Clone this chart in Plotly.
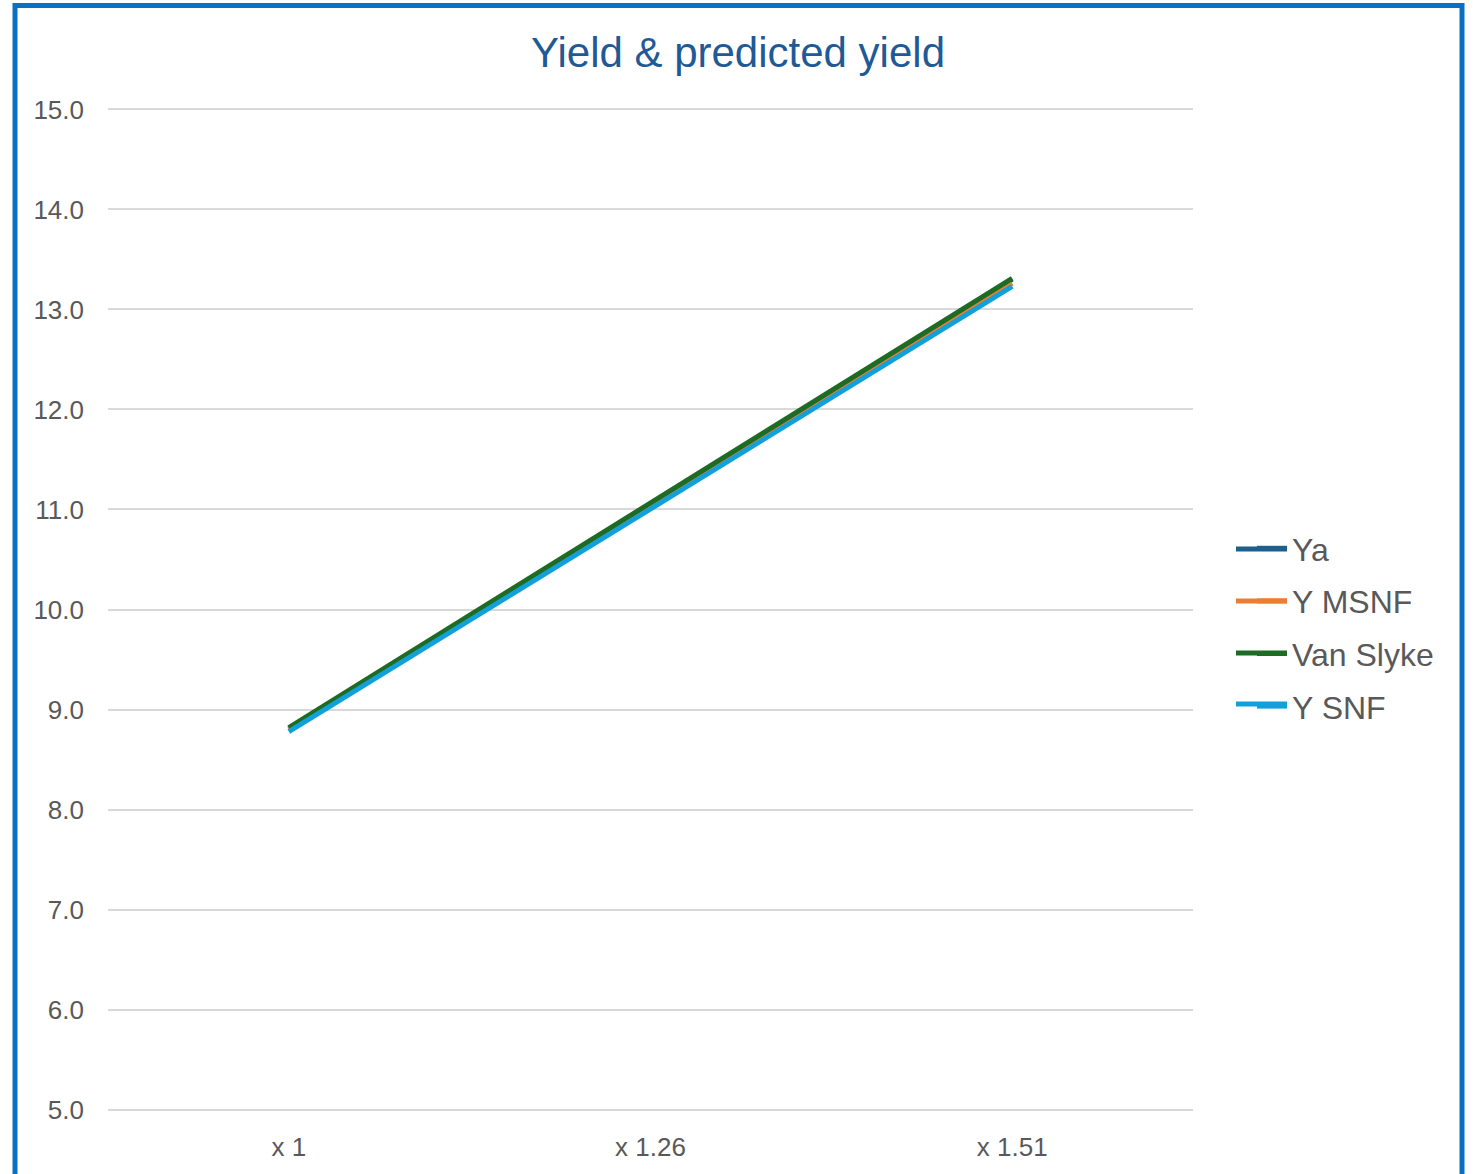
import plotly.graph_objects as go

categories = ["x 1", "x 1.26", "x 1.51"]
ya = [8.81, 11.06, 13.30]
y_msnf = [8.80, 11.03, 13.26]
van_slyke = [8.82, 11.07, 13.31]
y_snf = [8.78, 11.01, 13.23]

series_names = ["Ya", "Y MSNF", "Van Slyke", "Y SNF"]
series_values = [ya, y_msnf, van_slyke, y_snf]
series_colors = ["#1F5F8B", "#ED7D31", "#1E6B24", "#12A0DA"]

FONT = "Liberation Sans, Arial, sans-serif"

fig = go.Figure()
for i, (name, vals, col) in enumerate(zip(series_names, series_values, series_colors)):
    fig.add_trace(go.Scatter(
        x=categories, y=vals, name=name, mode="lines",
        line=dict(color=col, width=5),
        legendgroup=f"g{i}",
    ))

L, R, T, B = 108, 280, 108, 63
W, H = 1473, 1174
pw, ph = W - L - R, H - T - B

def px_to_paper_x(px):
    return (px - L) / pw

def px_to_paper_y(py):
    return (H - B - py) / ph

fig.update_layout(
    width=W, height=H,
    margin=dict(l=L, r=R, t=T, b=B),
    paper_bgcolor="white", plot_bgcolor="white",
    font=dict(family=FONT, color="#595959"),
    title=dict(text="Yield & predicted yield", x=738 / W, xanchor="center",
               y=1 - 52 / H, yanchor="middle",
               font=dict(family=FONT, size=42, color="#1F5A96")),
    xaxis=dict(type="category", range=[-0.5, 2.5], showgrid=False, showline=False,
               zeroline=False, ticks="", tickfont=dict(size=26, color="#595959"),
               ticklabelstandoff=18),
    yaxis=dict(range=[4.986, 15.014], tickvals=list(range(5, 16)),
               ticktext=[f"{v:.1f}" for v in range(5, 16)], showgrid=True,
               gridcolor="#D9D9D9", gridwidth=1.5, zeroline=False, showline=False,
               tickfont=dict(size=26, color="#595959"), ticklabelstandoff=23),
    legend=dict(x=px_to_paper_x(1252), y=px_to_paper_y(521), xanchor="left", yanchor="top",
                font=dict(family=FONT, size=32, color="#595959"),
                traceorder="grouped", tracegroupgap=8, itemwidth=30,
                bgcolor="rgba(0,0,0,0)"),
    showlegend=True,
)

# extend legend swatch lines to match the longer keys
legend_key_y = [549, 601, 653, 704]
for ky, col in zip(legend_key_y, series_colors):
    fig.add_shape(type="line", xref="paper", yref="paper",
                  x0=px_to_paper_x(1236), x1=px_to_paper_x(1287),
                  y0=px_to_paper_y(ky), y1=px_to_paper_y(ky),
                  line=dict(color=col, width=5), layer="above")

fig.add_shape(type="rect", xref="paper", yref="paper",
              x0=px_to_paper_x(15), x1=px_to_paper_x(1462),
              y0=px_to_paper_y(1185), y1=px_to_paper_y(5.5),
              line=dict(color="#0A70C4", width=5), fillcolor="rgba(0,0,0,0)",
              layer="below")

fig.write_html("out.html", config={"displayModeBar": False},
               post_script="document.body.style.margin='0';")
